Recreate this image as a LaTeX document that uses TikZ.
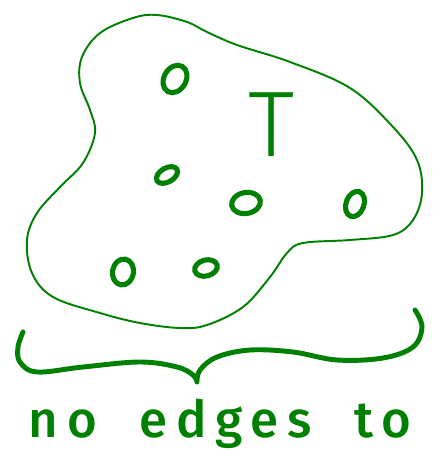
\documentclass[tikz,border=0pt]{standalone}
\usepackage{fontspec}
\usetikzlibrary{shapes.geometric}
\newfontfamily\handfont{Fira Sans}[UprightFont={* Medium}, LetterSpace=17, WordSpace=2]
\newfontfamily\capfont{Fira Sans}[UprightFont={* Light}]
\definecolor{inkgreen}{RGB}{0,128,0}

\begin{document}
\begin{tikzpicture}
[
    x=0.02cm, y=-0.02cm,
    blob/.style={draw=inkgreen, line width=1.1pt},
    vertex/.style={draw=inkgreen, ellipse, line width=2.9pt, inner sep=0pt},
    brace/.style={draw=inkgreen, line width=2.8pt, line cap=round, line join=round},
    hand/.style={inkgreen, font=\handfont\fontsize{29}{30}\selectfont}
]
    \useasboundingbox (0,0) rectangle (439,475);

    \draw[blob] plot[smooth cycle, tension=0.6] coordinates {
        (157,15) (187,22) (207,32) (237,45) (290,62) (350,88) (393,127)
        (417,160) (422,193) (413,220) (393,235) (350,240) (303,243) (287,253)
        (270,277) (243,307) (207,325) (180,328) (140,323) (100,313) (53,297)
        (32,273) (27,240) (37,213) (60,187) (83,163) (95,133) (90,110)
        (80,83) (82,57) (100,33) (133,18)};

    \node[vertex, minimum width=0.58cm, minimum height=0.44cm, rotate=60] (v1) at (175,79) {};
    \node[vertex, minimum width=0.46cm, minimum height=0.28cm, rotate=30] (v2) at (167,175) {};
    \node[vertex, minimum width=0.58cm, minimum height=0.42cm, rotate=10] (v3) at (246,203) {};
    \node[vertex, minimum width=0.52cm, minimum height=0.36cm, rotate=70] (v4) at (355,204) {};
    \node[vertex, minimum width=0.52cm, minimum height=0.42cm, rotate=80] (v5) at (123,272) {};
    \node[vertex, minimum width=0.46cm, minimum height=0.32cm, rotate=15] (v6) at (206,268) {};

    \node[inkgreen, font=\capfont\fontsize{53}{53}\selectfont] (T) at (272,125) {T};

    \draw[brace] plot[smooth, tension=0.6] coordinates {
        (23,332) (18,347) (20,362) (37,372) (83,367) (140,362) (177,367)
        (193,375) (197,382)}
        plot[smooth, tension=0.6] coordinates {
        (197,382) (200,370) (217,357) (250,350) (293,352) (337,360)
        (383,358) (413,347) (422,327) (415,310)};

    \node[hand, anchor=base] (label) at (220,437) {no edges to};
\end{tikzpicture}
\end{document}
